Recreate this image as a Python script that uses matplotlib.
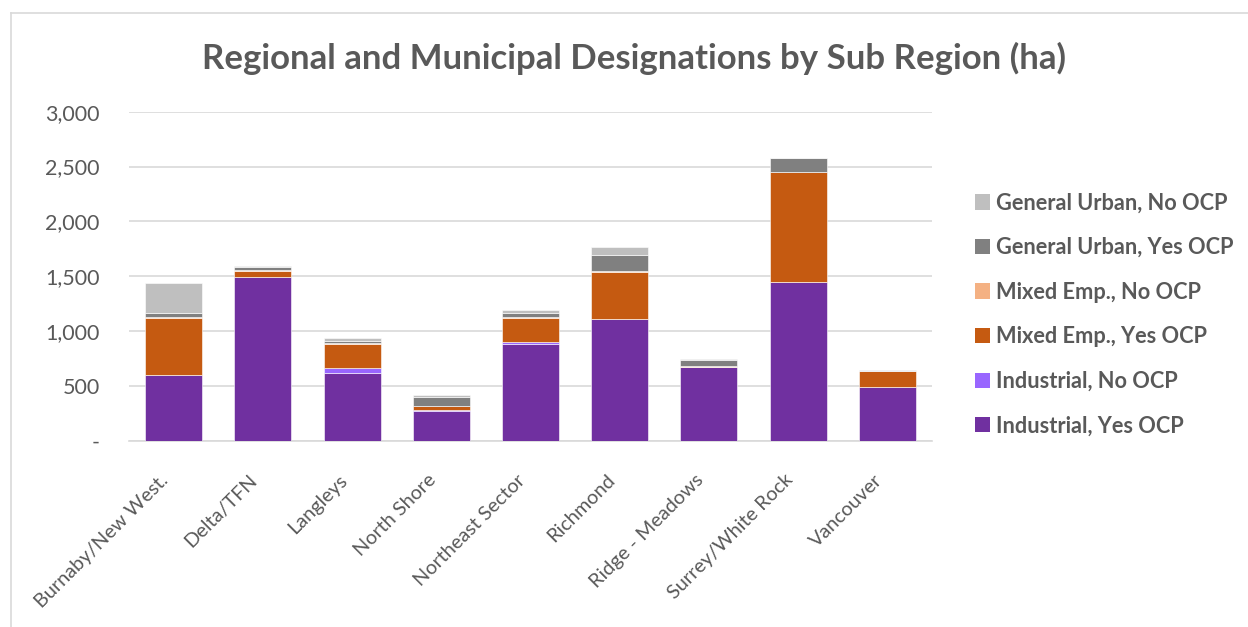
import matplotlib.pyplot as plt
from matplotlib.lines import Line2D
from matplotlib.patches import Patch
from matplotlib.ticker import FuncFormatter
from matplotlib.transforms import ScaledTranslation
import numpy as np

# sub regions and stacked areas (ha)
regions = ['Burnaby/New West.', 'Delta/TFN', 'Langleys', 'North Shore', 'Northeast Sector',
           'Richmond', 'Ridge - Meadows', 'Surrey/White Rock', 'Vancouver']
ind_yes = [600, 1490, 620, 274, 880, 1107, 675, 1450, 492]
ind_no = [0, 5, 46, 2, 17, 0, 0, 0, 0]
mix_yes = [520, 55, 220, 42, 225, 434, 0, 997, 143]
mix_no = [5, 5, 3, 2, 3, 2, 2, 2, 2]
gu_yes = [35, 30, 22, 80, 42, 150, 58, 132, 0]
gu_no = [275, 12, 27, 20, 25, 70, 8, 0, 5]

series = [
    ('Industrial, Yes OCP', ind_yes, '#7030A0'),
    ('Industrial, No OCP', ind_no, '#9966FF'),
    ('Mixed Emp., Yes OCP', mix_yes, '#C55A11'),
    ('Mixed Emp., No OCP', mix_no, '#F4B183'),
    ('General Urban, Yes OCP', gu_yes, '#808080'),
    ('General Urban, No OCP', gu_no, '#BFBFBF'),
]

txt = '#595959'
plt.rcParams['font.family'] = ['Lato', 'DejaVu Sans']

fig = plt.figure(figsize=(12.48, 6.27), dpi=100)
ax = fig.add_axes([129/1248, 1-440.7/627, (932-129)/1248, (440.7-111.7)/627])

x = np.arange(len(regions))
bottom = np.zeros(len(regions))
handles = []
for name, vals, col in series:
    vals = np.array(vals, dtype=float)
    ax.bar(x, vals, 0.64, bottom=bottom, color=col, edgecolor='white', linewidth=0.4, zorder=3)
    bottom += vals
    handles.append(Patch(facecolor=col, label=name))

ax.set_xlim(-0.5, len(regions) - 0.5)
ax.set_ylim(0, 3000)
ax.set_yticks(np.arange(0, 3001, 500))
ax.yaxis.set_major_formatter(FuncFormatter(lambda v, p: '-' if v == 0 else f'{int(v):,}'))
ax.grid(axis='y', color='#d9d9d9', linewidth=1.2, zorder=0)
for s in ['top', 'right', 'left']:
    ax.spines[s].set_visible(False)
ax.spines['bottom'].set_color('#d9d9d9')
ax.spines['bottom'].set_linewidth(1.2)
ax.tick_params(axis='y', length=0, labelsize=15.5, colors=txt, pad=21)
ax.tick_params(axis='x', length=0, labelsize=14.3, colors=txt, pad=22)
ax.set_xticks(x)
ax.set_xticklabels(regions, rotation=45, ha='right', rotation_mode='anchor')
shift = ScaledTranslation(-14/100, 0, fig.dpi_scale_trans)
for lab in ax.get_xticklabels():
    lab.set_transform(lab.get_transform() + shift)

fig.text(0.508, 0.907, 'Regional and Municipal Designations by Sub Region (ha)',
         ha='center', va='center', fontsize=25, fontweight='bold', color=txt)

fig.legend(handles=handles[::-1], loc='upper left', bbox_to_anchor=(955/1248, 1-173/627),
           frameon=False, prop={'size': 15.7, 'weight': 'bold'}, labelcolor=txt,
           handlelength=0.7, handleheight=0.7, handletextpad=0.3, labelspacing=1.08)

# outer chart border (left and top visible)
fig.add_artist(Line2D([11/1248, 11/1248], [0, 1-13/627], color='#d9d9d9', linewidth=1.2))
fig.add_artist(Line2D([11/1248, 1], [1-13/627, 1-13/627], color='#d9d9d9', linewidth=1.2))

fig.savefig('out.png', dpi=100)
